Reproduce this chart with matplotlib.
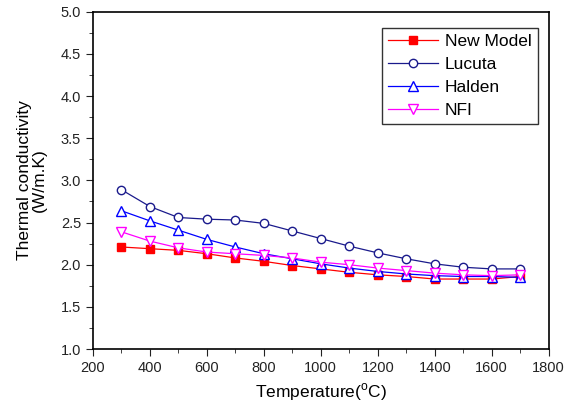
import numpy as np
import matplotlib
matplotlib.use("Agg")
import matplotlib.pyplot as plt
from matplotlib.ticker import MultipleLocator, FormatStrFormatter

plt.rcParams['font.family'] = ['Liberation Sans', 'DejaVu Sans']

temperature = [300, 400, 500, 600, 700, 800, 900, 1000, 1100, 1200, 1300, 1400, 1500, 1600, 1700]
new_model = [2.21, 2.19, 2.17, 2.13, 2.08, 2.04, 1.99, 1.95, 1.91, 1.88, 1.86, 1.83, 1.83, 1.83, 1.86]
lucuta = [2.89, 2.69, 2.56, 2.54, 2.53, 2.49, 2.40, 2.31, 2.22, 2.14, 2.07, 2.01, 1.97, 1.95, 1.95]
halden = [2.64, 2.52, 2.41, 2.30, 2.21, 2.13, 2.07, 2.01, 1.96, 1.92, 1.89, 1.87, 1.86, 1.86, 1.85]
nfi = [2.39, 2.28, 2.20, 2.15, 2.13, 2.11, 2.08, 2.03, 2.00, 1.96, 1.93, 1.90, 1.88, 1.87, 1.88]

fig = plt.figure(figsize=(5.77, 4.07), dpi=100)
ax = fig.add_axes([0.161, 0.1425, 0.79, 0.8285])

ax.plot(temperature, new_model, color='red', marker='s', ms=5.5, lw=0.9, mec='red', mfc='red', label='New Model')
ax.plot(temperature, lucuta, color='#1a1a8c', marker='o', ms=6, lw=0.9, mfc='white', mew=1, label='Lucuta')
ax.plot(temperature, halden, color='blue', marker='^', ms=6.5, lw=0.9, mfc='white', mew=1, label='Halden')
ax.plot(temperature, nfi, color='magenta', marker='v', ms=6.5, lw=0.9, mfc='white', mew=1, label='NFI')

ax.set_xlim(200, 1800)
ax.set_ylim(1.0, 5.0)
ax.xaxis.set_major_locator(MultipleLocator(200))
ax.xaxis.set_minor_locator(MultipleLocator(100))
ax.yaxis.set_major_locator(MultipleLocator(0.5))
ax.yaxis.set_minor_locator(MultipleLocator(0.25))
ax.yaxis.set_major_formatter(FormatStrFormatter('%.1f'))
ax.tick_params(which='both', direction='out', labelsize=10.5, top=False, right=False, colors='#222222')
ax.tick_params(which='major', length=5)
ax.tick_params(which='minor', length=3)
for s in ax.spines.values():
    s.set_linewidth(1.2)

ax.set_xlabel('Temperature($^{\\mathregular{o}}$C)', fontsize=12.5, labelpad=5)
ax.set_ylabel('Thermal conductivity\n(W/m.K)', fontsize=12.5, labelpad=10, linespacing=1.0)

leg = ax.legend(loc='upper right', bbox_to_anchor=(0.976, 0.953), fontsize=12.5, frameon=True,
                fancybox=False, edgecolor='black', handlelength=2.9, borderpad=0.35,
                labelspacing=0.45, handletextpad=0.4, borderaxespad=0)
leg.get_frame().set_linewidth(1.0)

fig.savefig('out.png', dpi=100)
